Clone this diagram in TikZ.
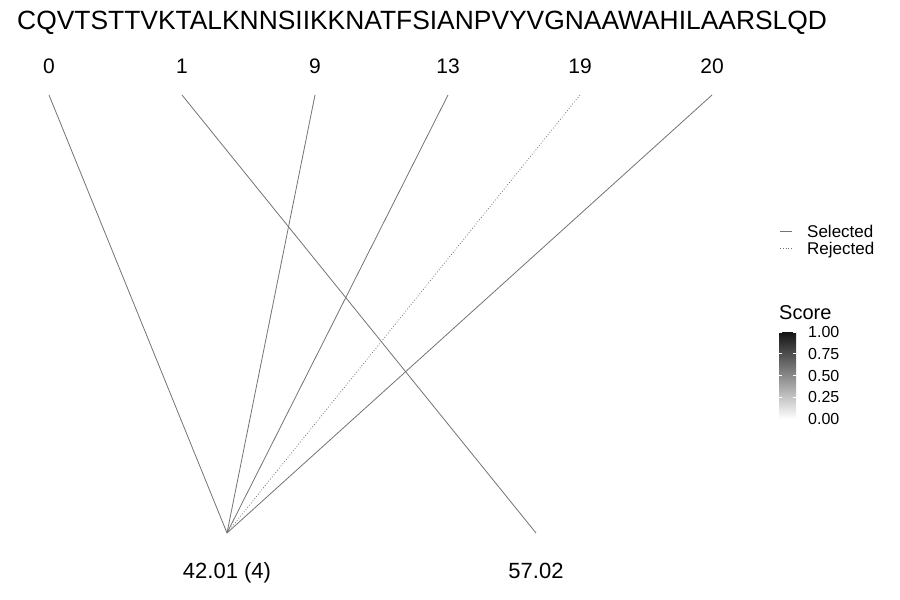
\documentclass[tikz,border=0pt]{standalone}
\usepackage{fontspec}
\setmainfont{Liberation Sans}
\usetikzlibrary{positioning}

\begin{document}
\begin{tikzpicture}[
    x=1pt, y=-1pt,
    seqtext/.style  = {font=\fontsize{26.4}{28}\selectfont, inner sep=0pt},
    toplabel/.style = {font=\fontsize{21}{23}\selectfont, inner sep=0pt, anchor=base},
    botlabel/.style = {font=\fontsize{22}{24}\selectfont, inner sep=0pt, anchor=base},
    legtext/.style  = {font=\fontsize{17}{19}\selectfont, inner sep=0pt, anchor=base west},
    link/.style     = {draw=black!55, line width=0.8pt},
    rejected/.style = {link, dotted},
    tick/.style     = {draw=white, line width=0.6pt}
]
\useasboundingbox (0,0) rectangle (900,600);

% --- Sequence ---------------------------------------------------------------
\node[seqtext, anchor=base west] (seq) at (17,29)
  {CQVTSTTVKTALKNNSIIKKNATFSIANPVYVGNAAWAHILAARSLQD};

% --- Top positions -----------------------------------------------------------
\foreach \name/\x in {0/49, 1/182, 9/315, 13/448, 19/580, 20/712} {
  \node[toplabel] (l\name) at (\x,73) {\name};
  \coordinate (t\name) at (\x,95);
}

% --- Bottom fragments ----------------------------------------------------------
\coordinate (b1) at (227,533);
\coordinate (b2) at (536,533);
\node[botlabel] (m1) at (227,578) {42.01 (4)};
\node[botlabel] (m2) at (536,578) {57.02};

% --- Links -------------------------------------------------------------------
\draw[link]     (t0)  -- (b1);
\draw[link]     (t1)  -- (b2);
\draw[link]     (t9)  -- (b1);
\draw[link]     (t13) -- (b1);
\draw[rejected] (t19) -- (b1);
\draw[link]     (t20) -- (b1);

% --- Legend: line type -------------------------------------------------------
\coordinate (sa) at (780,231);
\coordinate (sb) at (792,231);
\coordinate (ra) at (780,248);
\coordinate (rb) at (792,248);
\draw[link]     (sa) -- (sb);
\draw[rejected] (ra) -- (rb);
\node[legtext] (sel) at (807,237) {Selected};
\node[legtext] (rej) at (807,254) {Rejected};

% --- Legend: score colour bar ------------------------------------------------
\node[legtext, font=\fontsize{20}{22}\selectfont] (score) at (779,319) {Score};
\shade[bottom color=white, top color=black!92] (779,332) rectangle (796,419);
\foreach \v/\y in {1.00/332, 0.75/353.75, 0.50/375.5, 0.25/397.25, 0.00/419} {
  \node[legtext, font=\fontsize{16}{18}\selectfont] at (808,\y+5.7) {\v};
  \draw[tick] (779,\y) -- ++(3,0);
  \draw[tick] (796,\y) -- ++(-3,0);
}
\end{tikzpicture}
\end{document}
